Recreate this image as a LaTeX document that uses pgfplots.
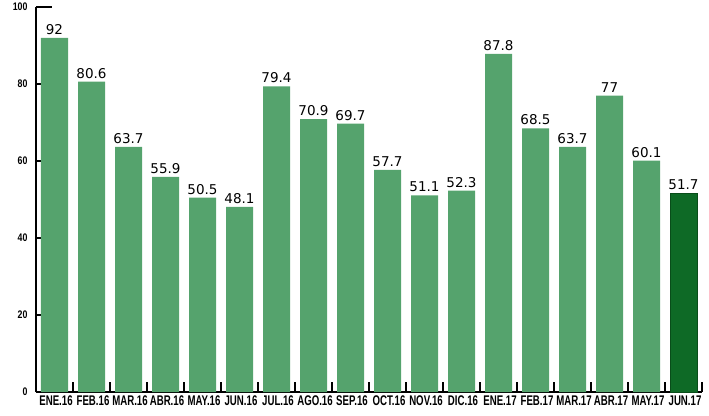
\documentclass[border=0pt]{standalone}
\usepackage{fontspec}
\usepackage{pgfplots}
\pgfplotsset{compat=1.18}
\setmainfont{Liberation Sans}
\newfontfamily\condfont[FakeStretch=0.69]{Liberation Sans Bold}
\newfontfamily\ycondfont[FakeStretch=0.8]{Liberation Sans Bold}
\newfontfamily\valfont{DejaVu Sans}
\definecolor{barg}{HTML}{55A36D}
\definecolor{bard}{HTML}{0E6A26}
\definecolor{bardedge}{HTML}{094D1A}
\begin{document}
\begin{tikzpicture}
\begin{axis}[
  scale only axis, width=666pt, height=385pt,
  at={(0,0)}, anchor=south west,
  xmin=-0.5, xmax=17.5, ymin=0, ymax=100,
  axis x line=bottom, axis y line=left,
  every axis line/.append style={-, line width=1.4pt, black},
  axis line style={-, line width=1.4pt, black},
  every tick/.style={black, line width=1.4pt},
  ybar, bar width=27pt, bar shift=0pt,
  /pgf/number format/assume math mode=true,
  xtick={0,...,17},
  xticklabels={ENE.16,FEB.16,MAR.16,ABR.16,MAY.16,JUN.16,JUL.16,AGO.16,SEP.16,OCT.16,NOV.16,DIC.16,ENE.17,FEB.17,MAR.17,ABR.17,MAY.17,JUN.17},
  x tick label style={font=\condfont\fontsize{14}{16}\selectfont, yshift=0pt, xshift=1.5pt},
  major x tick style={draw=none},
  minor xtick={0.5,1.5,...,17.5},
  minor tick length=10pt,
  major tick length=5pt, tick align=inside,
  ytick={0,20,40,60,80},
  extra y ticks={100},
  extra y tick style={major tick length=16pt, tick align=inside},
  y tick label style={font=\ycondfont\fontsize{11}{12}\selectfont, xshift=-5pt},
  nodes near coords,
  every node near coord/.append style={font=\valfont\fontsize{13.5}{15}\selectfont, inner sep=2pt, yshift=1pt},
  clip=false,
]
\addplot[fill=barg, draw=none] coordinates {
(0,92) (1,80.6) (2,63.7) (3,55.9) (4,50.5) (5,48.1) (6,79.4) (7,70.9) (8,69.7)
(9,57.7) (10,51.1) (11,52.3) (12,87.8) (13,68.5) (14,63.7) (15,77) (16,60.1)};
\addplot[fill=bard, draw=bardedge, line width=0.8pt] coordinates {(17,51.7)};
\end{axis}
\pgfresetboundingbox
\path (-36pt,-23pt) rectangle (673pt,392pt);
\end{tikzpicture}
\end{document}
